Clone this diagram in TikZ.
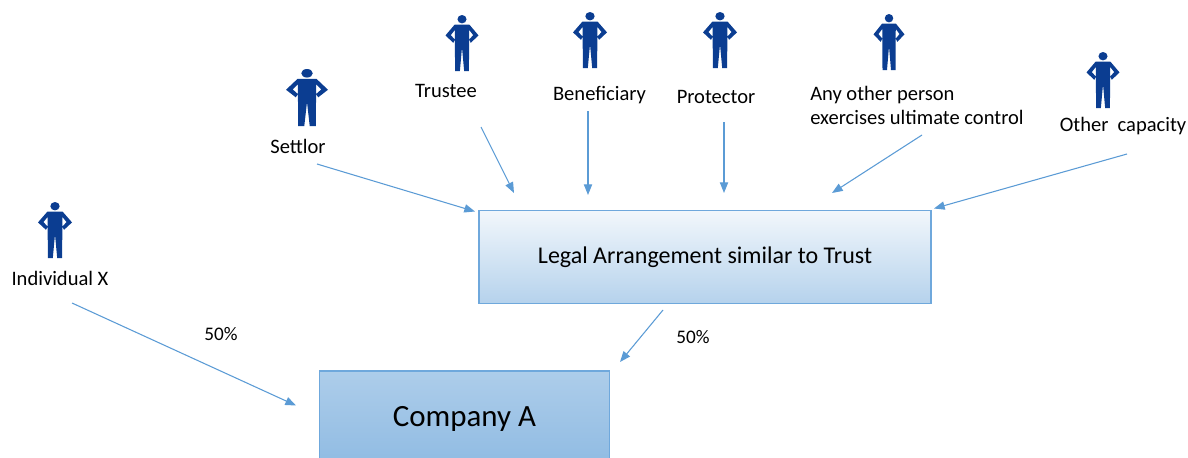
\documentclass[tikz,border=0pt]{standalone}
\usepackage{fontspec}
\setmainfont{Carlito}
\usetikzlibrary{arrows.meta}
\definecolor{linkblue}{HTML}{5B9BD5}
\definecolor{personblue}{HTML}{0B3D91}
\definecolor{boxedge}{HTML}{6FA8DC}
\tikzset{
  x=0.75pt,y=-0.75pt,
  link/.style={draw=linkblue,line width=0.8pt,-{Triangle[length=8pt,width=6.2pt]}},
  label/.style={inner sep=0pt,text=black,font=\fontsize{15.4}{18}\selectfont},
  small/.style={inner sep=0pt,text=black,font=\fontsize{14.4}{17}\selectfont},
  legalbox/.style={draw=boxedge,line width=0.8pt,top color=white!92!linkblue,bottom color=linkblue!45!white,minimum width=339pt,minimum height=70pt,inner sep=0pt,font=\fontsize{18}{22}\selectfont},
  companybox/.style={draw=boxedge,line width=0.8pt,top color=linkblue!50!white,bottom color=linkblue!68!white,minimum width=218pt,minimum height=72pt,inner sep=0pt,font=\fontsize{23.2}{27}\selectfont},
}
% centre x, top y, height, width
\newcommand{\personfig}[4]{%
  \begin{scope}[shift={(#1,#2)},x=0.75pt*#4/124,y=-0.75pt*#3/173]
    \fill[personblue] (0,13) ellipse (17 and 13);
    \fill[personblue] (-28,30) -- (28,30) -- (62,63) -- (33,86) -- (27,76) -- (42,62) -- (27,46)
      -- (26,173) -- (8,173) -- (0,100) -- (-8,173) -- (-26,173) -- (-27,46) -- (-42,62) -- (-27,76)
      -- (-33,86) -- (-62,63) -- cycle;
  \end{scope}}
\begin{document}
\begin{tikzpicture}
\useasboundingbox (0,0) rectangle (1188,457);
\begin{scope}
\clip (0,0) rectangle (1188,457);
\node[legalbox] (legal) at (705,257) {Legal Arrangement similar to Trust};
\node[companybox] (company) at (464.5,419) {Company A};
\end{scope}
\personfig{55}{202}{56}{34}
\personfig{307}{69}{57}{42}
\personfig{462}{15}{56}{33}
\personfig{590}{12}{56}{34}
\personfig{720}{12}{56}{34}
\personfig{889}{14}{56}{31}
\personfig{1103}{52}{56}{33}
\node[label] (settlor) at (298,146) {Settlor};
\node[label] (trustee) at (446,91) {Trustee};
\node[label] (beneficiary) at (599.5,95) {Beneficiary};
\node[label] (protector) at (716,97) {Protector};
\node[label,align=left,anchor=west] (anyother) at (810,105) {Any other person\\exercises ultimate control};
\node[label] (othercap) at (1123,126) {Other~ capacity};
\node[label] (indx) at (60,278) {Individual X};
\node[small] (pcta) at (221,334) {50\%};
\node[small] (pctb) at (693,337) {50\%};
\coordinate (s1) at (317,164); \coordinate (s2) at (475,211.5);
\coordinate (t1) at (481,127); \coordinate (t2) at (514,193);
\coordinate (b1) at (588,111); \coordinate (b2) at (588,195);
\coordinate (p1) at (724,122); \coordinate (p2) at (724,193);
\coordinate (a1) at (922,135); \coordinate (a2) at (832,193);
\coordinate (o1) at (1127,154); \coordinate (o2) at (934,208.5);
\coordinate (i1) at (72,303); \coordinate (i2) at (296,405.5);
\coordinate (l1) at (663,310); \coordinate (l2) at (620,362);
\draw[link] (s1) -- (s2);
\draw[link] (t1) -- (t2);
\draw[link] (b1) -- (b2);
\draw[link] (p1) -- (p2);
\draw[link] (a1) -- (a2);
\draw[link] (o1) -- (o2);
\draw[link] (i1) -- (i2);
\draw[link] (l1) -- (l2);
\end{tikzpicture}
\end{document}
